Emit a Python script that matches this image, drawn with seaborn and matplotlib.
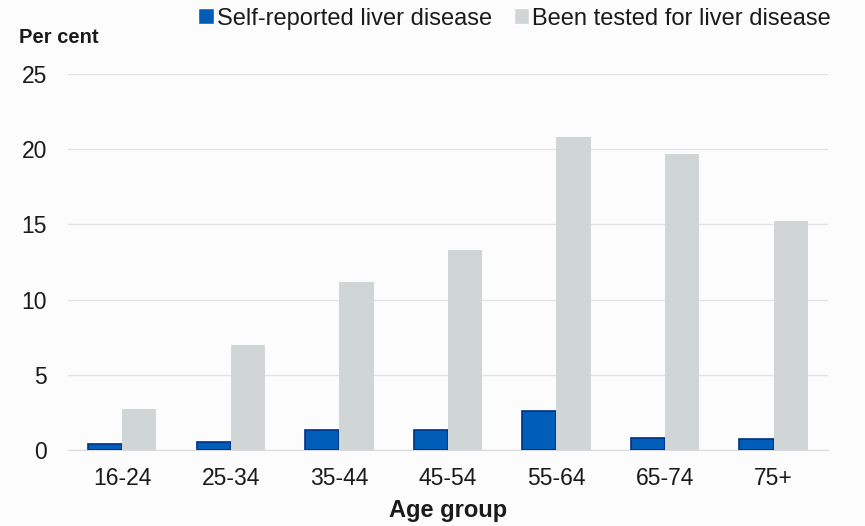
import pandas as pd
import matplotlib
matplotlib.use("Agg")
from matplotlib import pyplot as plt
import seaborn as sns

age_groups = ["16-24", "25-34", "35-44", "45-54", "55-64", "65-74", "75+"]
self_reported = [0.4, 0.5, 1.35, 1.3, 2.6, 0.8, 0.7]
been_tested = [2.7, 7.0, 11.2, 13.3, 20.8, 19.7, 15.2]
series_names = ["Self-reported liver disease", "Been tested for liver disease"]

df = pd.DataFrame({
    "Age group": age_groups * 2,
    "Per cent": self_reported + been_tested,
    "Series": [series_names[0]] * len(age_groups) + [series_names[1]] * len(age_groups),
})

sns.set_style("white")
plt.rcParams["font.family"] = ["Liberation Sans", "DejaVu Sans"]

fig, ax = plt.subplots(figsize=(8.65, 5.26), dpi=100, facecolor="#fcfcfc")
ax.set_facecolor("#fcfcfc")
fig.subplots_adjust(left=0.0786, right=0.957, top=0.859, bottom=0.1445)

palette = {series_names[0]: "#005EB8", series_names[1]: "#D0D5D6"}
sns.barplot(data=df, x="Age group", y="Per cent", hue="Series", palette=palette,
            width=0.63, gap=0, saturation=1, ax=ax, zorder=3)

# navy edge on the blue bars only
for bar in ax.containers[0]:
    bar.set_edgecolor("#003087")
    bar.set_linewidth(1.2)
for bar in ax.containers[1]:
    bar.set_linewidth(0)

ax.set_ylim(0, 25)
ax.set_yticks(range(0, 26, 5))
ax.grid(axis="y", color="#e3e3e6", linewidth=1, zorder=0)
for s in ["top", "right", "left"]:
    ax.spines[s].set_visible(False)
ax.spines["bottom"].set_color("#d9d9de")
ax.tick_params(axis="both", length=0, labelsize=16.5, colors="#1a1a1a")
ax.tick_params(axis="y", pad=15)
ax.tick_params(axis="x", pad=12)
ax.set_ylabel("")
ax.set_xlabel("Age group", fontsize=17, fontweight="bold", labelpad=7, color="#1a1a1a")
fig.text(0.022, 0.928, "Per cent", fontsize=14.5, fontweight="bold", ha="left", va="center",
         color="#1a1a1a")

handles, labels = ax.get_legend_handles_labels()
leg = ax.legend(handles, labels, loc="center", bbox_to_anchor=(0.588, 1.148), ncol=2,
                frameon=False, fontsize=17, handlelength=0.65, handleheight=0.65,
                handletextpad=0.15, columnspacing=0.9, borderaxespad=0)
for t in leg.get_texts():
    t.set_color("#1a1a1a")

fig.savefig("out.png", dpi=100, facecolor=fig.get_facecolor())
